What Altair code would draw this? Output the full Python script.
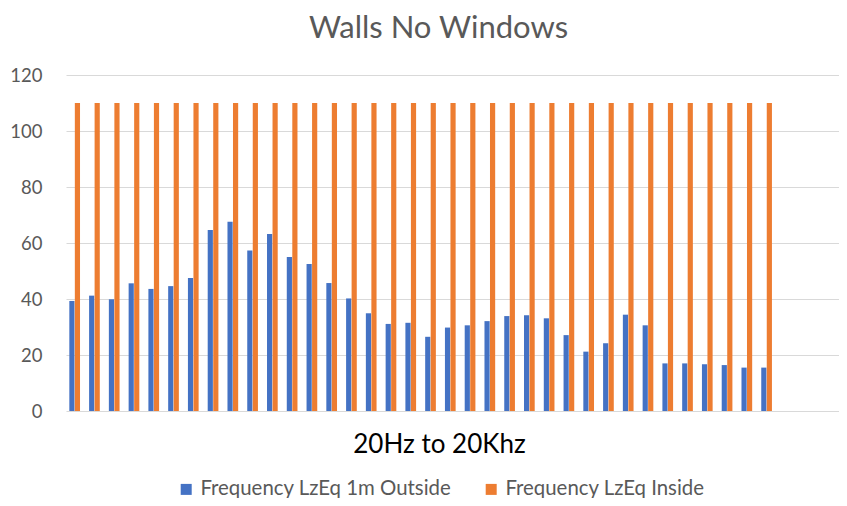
import altair as alt
import pandas as pd

# 39 frequency-band slots on the category axis; the last three carry no readings
bands = [str(i) for i in range(1, 40)]
series = ["Frequency LzEq 1m Outside", "Frequency LzEq Inside"]
outside = [39.3, 41.2, 39.9, 45.6, 43.6, 44.6, 47.5, 64.6, 67.6, 57.3, 63.2, 55.0,
           52.5, 45.7, 40.2, 34.9, 31.1, 31.5, 26.5, 29.8, 30.6, 32.1, 33.9, 34.2,
           33.1, 27.1, 21.2, 24.2, 34.4, 30.6, 17.0, 17.0, 16.7, 16.4, 15.5, 15.5]
inside = [110, 110, 110, 110, 110, 110, 110, 110, 110, 110, 110, 110,
          110, 110, 110, 110, 110, 110, 110, 110, 110, 110, 110, 110,
          110, 110, 110, 110, 110, 110, 110, 110, 110, 110, 110, 110]
y_ticks = [0, 20, 40, 60, 80, 100, 120]
colors = ["#4472C4", "#ED7D31"]

rows = []
for b, o, i in zip(bands, outside, inside):
    rows.append({"band": b, "series": series[0], "value": o})
    rows.append({"band": b, "series": series[1], "value": i})
df = pd.DataFrame(rows)

FONT = "Lato"

chart = alt.Chart(df).mark_bar().encode(
    x=alt.X("band:N", sort=bands,
            scale=alt.Scale(domain=bands, paddingInner=0.459, paddingOuter=0.28, align=0.3),
            axis=alt.Axis(labels=False, ticks=False, domain=False, grid=False,
                          title="20Hz to 20Khz", titleFontSize=26, titleFont=FONT,
                          titleColor="#000000", titleFontWeight="normal",
                          titlePadding=20, titleX=373)),
    xOffset=alt.XOffset("series:N", sort=series, scale=alt.Scale(paddingInner=0.06)),
    y=alt.Y("value:Q", scale=alt.Scale(domain=[0, 120]),
            axis=alt.Axis(values=y_ticks, title=None, domain=False, ticks=False,
                          labelFontSize=18.5, labelFont=FONT, labelColor="#595959",
                          labelPadding=24, gridColor="#d9d9d9", gridWidth=1)),
    color=alt.Color("series:N", sort=series,
                    scale=alt.Scale(domain=series, range=colors),
                    legend=alt.Legend(title=None, orient="none", legendX=110, legendY=404,
                                      direction="horizontal", symbolType="square",
                                      symbolSize=121, symbolStrokeWidth=0,
                                      labelFontSize=20.4, labelFont=FONT,
                                      labelColor="#595959", labelLimit=400,
                                      columnPadding=29, labelOffset=4)),
).properties(
    width=773,
    height=336,
    title=alt.TitleParams("Walls No Windows", anchor="middle", frame="group",
                          fontSize=31, font=FONT, color="#595959",
                          fontWeight="normal", dx=-14, offset=21),
    autosize=alt.AutoSizeParams(type="none"),
    padding={"left": 58, "top": 67, "right": 0, "bottom": 87},
).configure_view(stroke=None)

chart.save("out.html", embed_options={"renderer": "svg", "actions": False})
